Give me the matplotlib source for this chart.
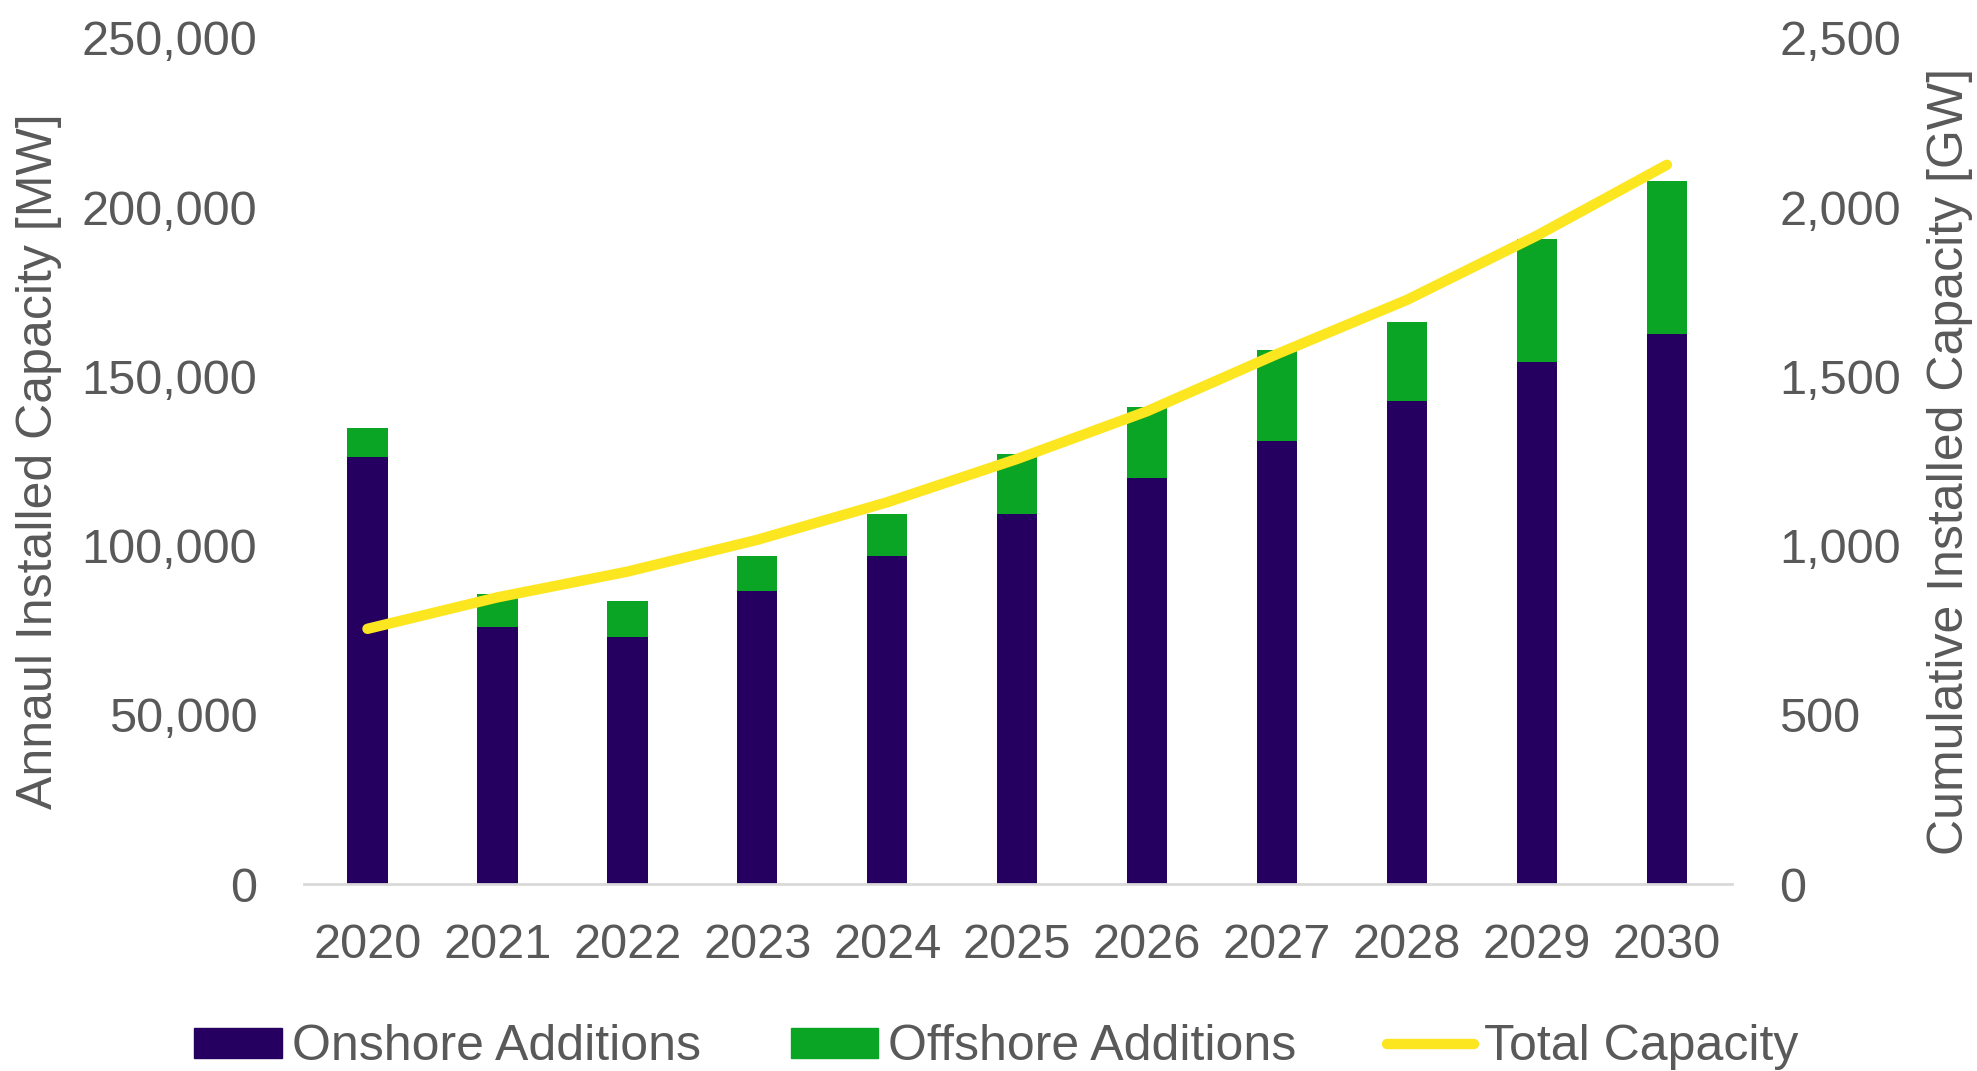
import numpy as np
import matplotlib
matplotlib.use("Agg")
import matplotlib.pyplot as plt
from matplotlib.lines import Line2D
from matplotlib.patches import Patch

# data
years = ["2020", "2021", "2022", "2023", "2024", "2025", "2026", "2027", "2028", "2029", "2030"]
onshore = [126300, 75800, 73000, 86600, 97000, 109300, 119900, 131000, 142600, 154300, 162500]
offshore = [8400, 10000, 10700, 10200, 12200, 17700, 21000, 26800, 23400, 36200, 45100]
total_capacity = [754, 847, 923, 1017, 1128, 1256, 1397, 1566, 1726, 1916, 2125]

ONSHORE_COLOR = "#250060"
OFFSHORE_COLOR = "#0aa524"
LINE_COLOR = "#fce620"
TEXT_COLOR = "#595959"

plt.rcParams["font.family"] = ["Liberation Sans", "DejaVu Sans"]
narrow = ["Liberation Sans Narrow", "Liberation Sans", "DejaVu Sans"]

fig = plt.figure(figsize=(19.77, 10.71), dpi=100)
ax = fig.add_axes([0.154, 0.1746, 0.722, 0.79])
ax2 = ax.twinx()

x = np.arange(len(years))
ax.bar(x, onshore, width=0.31, color=ONSHORE_COLOR, zorder=2)
ax.bar(x, offshore, width=0.31, bottom=onshore, color=OFFSHORE_COLOR, zorder=2)
ax2.plot(x, total_capacity, color=LINE_COLOR, linewidth=7.5, solid_capstyle="round",
         solid_joinstyle="round", zorder=3)

ax.set_xlim(-0.485, 10.5)
ax.set_ylim(0, 250000)
ax2.set_ylim(0, 2500)
ax.set_yticks(np.arange(0, 250001, 50000))
ax.set_yticklabels([f"{v:,}" for v in range(0, 250001, 50000)])
ax2.set_yticks(np.arange(0, 2501, 500))
ax2.set_yticklabels([f"{v:,}" for v in range(0, 2501, 500)])
ax.set_xticks(x)
ax.set_xticklabels(years)

for a in (ax, ax2):
    for s in a.spines.values():
        s.set_visible(False)
    a.tick_params(length=0, labelsize=35, colors=TEXT_COLOR)
ax.spines["bottom"].set_visible(True)
ax.spines["bottom"].set_color("#d9d9d9")
ax.spines["bottom"].set_linewidth(2)
ax.tick_params(axis="y", pad=34)
ax2.tick_params(axis="y", pad=34)
ax.tick_params(axis="x", pad=28)

ax.set_ylabel("Annaul Installed Capacity [MW]", fontsize=36, color=TEXT_COLOR, family=narrow)
ax.yaxis.set_label_coords(-0.17, 0.5)
ax2.set_ylabel("Cumulative Installed Capacity [GW]", fontsize=36, color=TEXT_COLOR,
               family=narrow, rotation=90)
ax2.yaxis.set_label_coords(1.137, 0.5)

handles = [
    Patch(color=ONSHORE_COLOR, label="Onshore Additions"),
    Patch(color=OFFSHORE_COLOR, label="Offshore Additions"),
    Line2D([0], [0], color=LINE_COLOR, linewidth=7.5, solid_capstyle="round", label="Total Capacity"),
]
leg = fig.legend(handles=handles, loc="center", bbox_to_anchor=(0.504, 0.022), ncol=3,
                 frameon=False, prop={"family": narrow, "size": 36}, handlelength=1.75,
                 handleheight=0.55, handletextpad=0.2, columnspacing=1.8)
for t in leg.get_texts():
    t.set_color(TEXT_COLOR)

fig.savefig("out.png", dpi=100)
